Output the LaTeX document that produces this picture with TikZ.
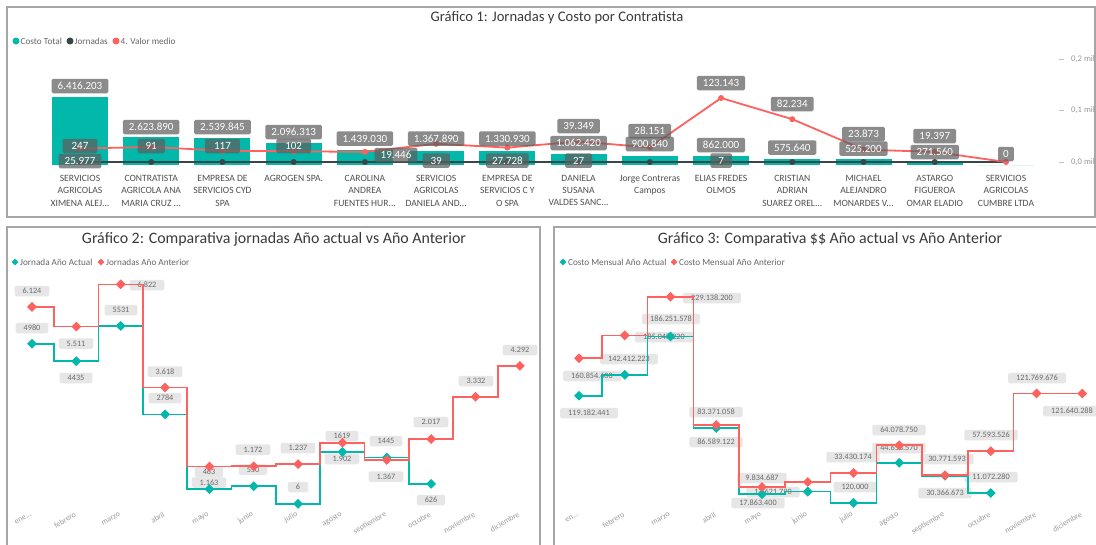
\documentclass[tikz,border=0pt]{standalone}
\usepackage{fontspec}
\setmainfont{Carlito}
\usetikzlibrary{shapes.geometric,calc}
\definecolor{tealc}{HTML}{01B8AA}
\definecolor{darkc}{HTML}{374649}
\definecolor{redc}{HTML}{FD625E}
\definecolor{framec}{HTML}{A6A6A6}
\definecolor{titlec}{HTML}{3A3A3A}
\definecolor{legc}{HTML}{666666}
\definecolor{catc}{HTML}{505050}
\definecolor{axc}{HTML}{9A9A9A}
\definecolor{boxd}{HTML}{5F5F5F}
\definecolor{boxl}{HTML}{E4E4E4}
\definecolor{boxlt}{HTML}{6A6A6A}
\begin{document}
\begin{tikzpicture}[x=1pt,y=-1pt,
  panel/.style={draw=framec,line width=1.3pt},
  ttl/.style={text=titlec,inner sep=0pt},
  leg/.style={text=legc,font=\fontsize{9.2}{10}\selectfont,anchor=west,inner sep=0pt},
  cat/.style={text=catc,align=center,anchor=north,inner sep=0pt,font=\fontsize{9.6}{12.3}\selectfont},
  dl/.style={fill=boxd,fill opacity=0.72,text opacity=1,text=white,rounded corners=1.5pt,inner xsep=6pt,inner ysep=0pt,minimum height=14.5pt,font=\fontsize{11}{11}\selectfont},
  vl/.style={fill=boxl,fill opacity=0.9,text opacity=1,text=boxlt,rounded corners=1.5pt,inner xsep=8pt,inner ysep=0pt,minimum height=10.5pt,font=\fontsize{8.2}{8.5}\selectfont},
  mon/.style={text=axc,rotate=30,anchor=east,inner sep=0pt,font=\fontsize{7.9}{8.5}\selectfont},
  yax/.style={text=axc,anchor=west,inner sep=0pt,font=\fontsize{8.6}{9}\selectfont},
  stepT/.style={draw=tealc,line width=1.7pt},
  stepR/.style={draw=redc,line width=1.7pt},
  dmd/.style={diamond,inner sep=0pt,minimum size=10pt},
  ldmd/.style={diamond,inner sep=0pt,minimum size=7pt},
]
\useasboundingbox (0,0) rectangle (1096,544);
\clip (0,0) rectangle (1096,544);
\fill[white] (0,0) rectangle (1096,544);

% ---------- panel frames ----------
\draw[panel] (7,7) rectangle (1095,217);
\draw[panel] (7,227) rectangle (540,560);
\draw[panel] (554,227) rectangle (1102,560);

% ---------- chart 1: bars and lines per contractor ----------
\node[ttl,font=\fontsize{14.6}{16}\selectfont] (t1) at (557,18) {Gráfico 1: Jornadas y Costo por Contratista};
\fill[tealc] (16,41) circle (3.5pt);
\node[leg] (lg1a) at (20.5,41) {Costo Total};
\fill[darkc] (70,41) circle (3.5pt);
\node[leg] (lg1b) at (74.5,41) {Jornadas};
\fill[redc] (116,41) circle (3.5pt);
\node[leg] (lg1c) at (120.5,41) {4. Valor medio};

\foreach \i/\h/\m in {1/68/148.5,2/27.8/147.0,3/26.9/150.7,4/22.2/151.3,5/15.3/151.9,6/14.5/143.8,7/14.1/147.6,8/11.3/141.5,9/9.5/147.4,10/9.1/98.0,11/6.1/119.2,12/5.6/149.6,13/2.9/151.9,14/0/162}{
  \pgfmathsetmacro\cx{80+71.23*(\i-1)}
  \fill[tealc] (\cx-28,165) rectangle (\cx+28,165-\h);
  \coordinate (jr-\i) at (\cx,162);
  \coordinate (vm-\i) at (\cx,\m);
}
\draw[darkc,line width=1.8pt] (jr-1) foreach \i in {2,...,14} { -- (jr-\i) };
\draw[redc,line width=1.8pt] (vm-1) foreach \i in {2,...,14} { -- (vm-\i) };
\foreach \i in {1,...,13} \fill[darkc] (jr-\i) circle (3pt);
\foreach \i in {1,...,14} \fill[redc] (vm-\i) circle (3pt);

% right axis
\foreach \y/\n in {59/a,110/b,162/c} \draw[axc!60,line width=0.6pt] (1059,\y) -- (1064,\y) coordinate (tk-\n);
\node[yax] (ya) at (1071,59) {0,2 mil};
\node[yax] (yb) at (1071,110) {0,1 mil};
\node[yax] (yc) at (1071,162) {0,0 mil};

% data labels
\node[dl] (d1a) at (80,86) {6.416.203};
\node[dl,inner xsep=9pt] (d1b) at (80,146) {247};
\node[dl] (d1c) at (80,161) {25.977};
\node[dl] (d2a) at (151.2,127) {2.623.890};
\node[dl,inner xsep=8pt] (d2b) at (151.2,146) {91};
\node[dl] (d3a) at (222.5,127) {2.539.845};
\node[dl,inner xsep=9pt] (d3b) at (222.5,146) {117};
\node[dl] (d4a) at (293.7,132) {2.096.313};
\node[dl,inner xsep=9pt] (d4b) at (293.7,146) {102};
\node[dl] (d5a) at (364.9,138.5) {1.439.030};
\node[dl] (d5b) at (396,155) {19.446};
\node[dl] (d6a) at (436.2,138.5) {1.367.890};
\node[dl,inner xsep=8pt] (d6b) at (436.2,160.5) {39};
\node[dl] (d7a) at (507.4,138.5) {1.330.930};
\node[dl] (d7b) at (507.4,160.5) {27.728};
\node[dl] (d8a) at (578.6,126) {39.349};
\node[dl] (d8b) at (578.6,143) {1.062.420};
\node[dl,inner xsep=8pt] (d8c) at (578.6,160.5) {27};
\node[dl] (d9a) at (649.8,131) {28.151};
\node[dl] (d9b) at (649.8,144) {900.840};
\node[dl] (d10a) at (721.1,83) {123.143};
\node[dl] (d10b) at (721.1,145) {862.000};
\node[dl,inner xsep=8pt] (d10c) at (721.1,160.5) {7};
\node[dl] (d11a) at (792.3,104) {82.234};
\node[dl] (d11b) at (792.3,147.5) {575.640};
\node[dl] (d12a) at (863.5,134) {23.873};
\node[dl] (d12b) at (863.5,148.5) {525.200};
\node[dl] (d13a) at (934.8,136) {19.397};
\node[dl] (d13b) at (934.8,152) {271.560};
\node[dl,inner xsep=5pt] (d14a) at (1006,154) {0};

% category axis
\node[cat] (k1) at (80,175) {SERVICIOS\\AGRICOLAS\\XIMENA ALEJ...};
\node[cat] (k2) at (151.2,175) {CONTRATISTA\\AGRICOLA ANA\\MARIA CRUZ ...};
\node[cat] (k3) at (222.5,175) {EMPRESA DE\\SERVICIOS CYD\\SPA};
\node[cat] (k4) at (293.7,175) {AGROGEN SPA.};
\node[cat] (k5) at (364.9,175) {CAROLINA\\ANDREA\\FUENTES HUR...};
\node[cat] (k6) at (436.2,175) {SERVICIOS\\AGRICOLAS\\DANIELA AND...};
\node[cat] (k7) at (507.4,175) {EMPRESA DE\\SERVICIOS C Y\\O SPA};
\node[cat] (k8) at (578.6,175) {DANIELA\\SUSANA\\VALDES SANC...};
\node[cat] (k9) at (649.8,175) {Jorge Contreras\\Campos};
\node[cat] (k10) at (721.1,175) {ELIAS FREDES\\OLMOS};
\node[cat] (k11) at (792.3,175) {CRISTIAN\\ADRIAN\\SUAREZ OREL...};
\node[cat] (k12) at (863.5,175) {MICHAEL\\ALEJANDRO\\MONARDES V...};
\node[cat] (k13) at (934.8,175) {ASTARGO\\FIGUEROA\\OMAR ELADIO};
\node[cat] (k14) at (1006,175) {SERVICIOS\\AGRICOLAS\\CUMBRE LTDA};

% ---------- chart 2: workdays per month ----------
\node[ttl,font=\fontsize{15.9}{18}\selectfont] (t2) at (274,239) {Gráfico 2: Comparativa jornadas Año actual vs Año Anterior};
\node[ldmd,fill=tealc] (lg2a-m) at (15,262) {};
\node[leg] (lg2a) at (20,262) {Jornada Año Actual};
\node[ldmd,fill=redc] (lg2b-m) at (101,262) {};
\node[leg] (lg2b) at (106,262) {Jornadas Año Anterior};

\foreach \i/\v in {1/6124,2/5511,3/6822,4/3618,5/1163,6/1172,7/1237,8/1902,9/1367,10/2017,11/3332,12/4292}
  \coordinate (r2-\i) at ({32+44.35*(\i-1)},{504-0.0322*\v});
\foreach \i/\v in {1/4980,2/4435,3/5531,4/2784,5/463,6/550,7/6,8/1619,9/1445,10/626}
  \coordinate (a2-\i) at ({32+44.35*(\i-1)},{504-0.0322*\v});

\node[vl] (v2-1) at (32,291) {6.124};
\node[vl] (v2-2) at (32,328) {4980};
\node[vl] (v2-3) at (76,343.5) {5.511};
\node[vl] (v2-4) at (76,378) {4435};
\node[vl] (v2-5) at (147,285) {6.822};
\node[vl] (v2-6) at (121,310) {5531};
\node[vl] (v2-7) at (165,371.5) {3.618};
\node[vl] (v2-8) at (165,398) {2784};
\node[vl] (v2-9) at (209,472) {463};
\node[vl] (v2-10) at (209,482.5) {1.163};
\node[vl] (v2-11) at (253,449.5) {1.172};
\node[vl] (v2-12) at (253,469.5) {550};
\node[vl] (v2-13) at (298,448) {1.237};
\node[vl] (v2-14) at (298,487) {6};
\node[vl] (v2-15) at (342,436) {1619};
\node[vl] (v2-16) at (342,459) {1.902};
\node[vl] (v2-17) at (386,441) {1445};
\node[vl] (v2-18) at (386,476.5) {1.367};
\node[vl] (v2-19) at (431,422) {2.017};
\node[vl] (v2-20) at (431,500) {626};
\node[vl] (v2-21) at (476,381) {3.332};
\node[vl] (v2-22) at (520,350) {4.292};

\draw[stepT] (a2-1) foreach \a/\b in {1/2,2/3,3/4,4/5,5/6,6/7,7/8,8/9,9/10} { -| ($(a2-\a)!.5!(a2-\b)$) |- (a2-\b) };
\draw[stepR] (r2-1) foreach \a/\b in {1/2,2/3,3/4,4/5,5/6,6/7,7/8,8/9,9/10,10/11,11/12} { -| ($(r2-\a)!.5!(r2-\b)$) |- (r2-\b) };
\foreach \i in {1,...,10} \node[dmd,fill=tealc] (ma2-\i) at (a2-\i) {};
\foreach \i in {1,...,12} \node[dmd,fill=redc] (mr2-\i) at (r2-\i) {};

\node[mon] (m2-1) at (31,514) {ene...};
\foreach \i/\t in {2/febrero,3/marzo,4/abril,5/mayo,6/junio,7/julio,8/agosto,9/septiembre,10/octubre,11/noviembre,12/diciembre}
  \node[mon] (m2-\i) at ({31+44.35*(\i-1)},514) {\t};

% ---------- chart 3: monthly cost ----------
\node[ttl,font=\fontsize{15.9}{18}\selectfont] (t3) at (830,239) {Gráfico 3: Comparativa \$\$ Año actual vs Año Anterior};
\node[ldmd,fill=tealc] (lg3a-m) at (563,262) {};
\node[leg] (lg3a) at (568,262) {Costo Mensual Año Actual};
\node[ldmd,fill=redc] (lg3b-m) at (674,262) {};
\node[leg] (lg3b) at (679,262) {Costo Mensual Año Anterior};

\foreach \i/\v in {1/160.85,2/186.25,3/229.14,4/86.59,5/17.86,6/23.3,7/33.43,8/64.08,9/30.77,10/57.59,11/121.77,12/121.64}
  \coordinate (r3-\i) at ({579+45.75*(\i-1)},{503-0.9*\v});
\foreach \i/\v in {1/119.18,2/142.41,3/185.05,4/83.37,5/9.83,6/12.62,7/0.12,8/44.66,9/30.37,10/11.07}
  \coordinate (a3-\i) at ({579+45.75*(\i-1)},{503-0.9*\v});

\node[vl] (v3-1) at (712,298) {229.138.200};
\node[vl] (v3-2) at (671,319) {186.251.578};
\node[vl] (v3-3) at (664,337) {185.048.220};
\node[vl] (v3-4) at (629,359) {142.412.223};
\node[vl] (v3-5) at (592,376) {160.854.600};
\node[vl] (v3-6) at (589,413) {119.182.441};
\node[vl] (v3-7) at (716,412) {83.371.058};
\node[vl] (v3-8) at (716,442) {86.589.122};
\node[vl] (v3-9) at (762,478) {9.834.687};
\node[vl] (v3-10) at (773,492) {12.621.790};
\node[vl] (v3-11) at (758,503) {17.863.400};
\node[vl] (v3-12) at (853,457) {33.430.174};
\node[vl] (v3-13) at (855,487) {120.000};
\node[vl] (v3-14) at (899,430) {64.078.750};
\node[vl] (v3-15) at (899,448) {44.658.570};
\node[vl] (v3-16) at (947,459) {30.771.593};
\node[vl] (v3-17) at (945,493) {30.366.673};
\node[vl] (v3-18) at (991,435) {57.593.526};
\node[vl] (v3-19) at (991,477) {11.072.280};
\node[vl] (v3-20) at (1037,378) {121.769.676};
\node[vl] (v3-21) at (1072,411) {121.640.288};

\draw[stepT] (a3-1) foreach \a/\b in {1/2,2/3,3/4,4/5,5/6,6/7,7/8,8/9,9/10} { -| ($(a3-\a)!.5!(a3-\b)$) |- (a3-\b) };
\draw[stepR] (r3-1) foreach \a/\b in {1/2,2/3,3/4,4/5,5/6,6/7,7/8,8/9,9/10,10/11,11/12} { -| ($(r3-\a)!.5!(r3-\b)$) |- (r3-\b) };
\foreach \i in {1,...,10} \node[dmd,fill=tealc] (ma3-\i) at (a3-\i) {};
\foreach \i in {1,...,12} \node[dmd,fill=redc] (mr3-\i) at (r3-\i) {};

\node[mon] (m3-1) at (578,514) {en...};
\foreach \i/\t in {2/febrero,3/marzo,4/abril,5/mayo,6/junio,7/julio,8/agosto,9/septiembre,10/octubre,11/noviembre,12/diciembre}
  \node[mon] (m3-\i) at ({578+45.75*(\i-1)},514) {\t};
\end{tikzpicture}
\end{document}
